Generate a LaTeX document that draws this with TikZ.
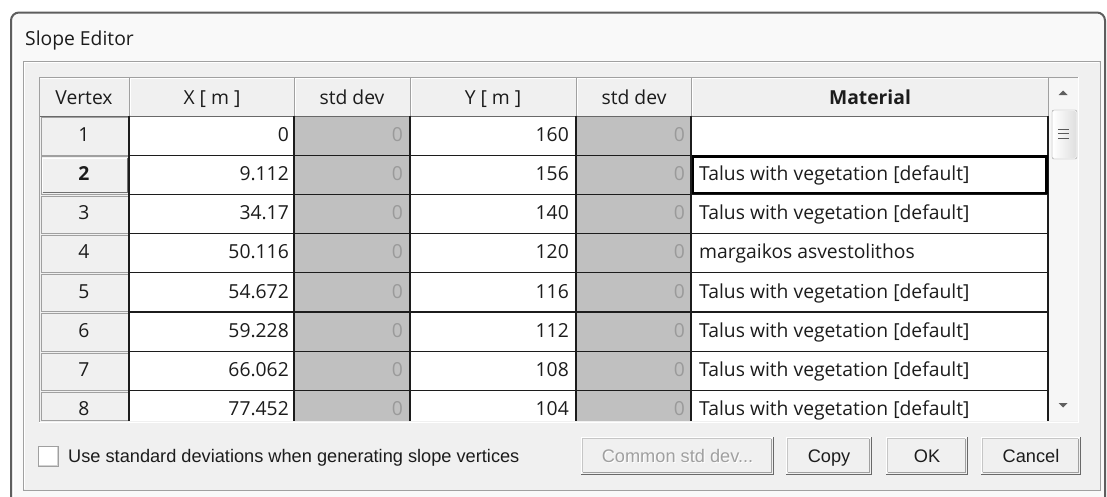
\documentclass[tikz,border=0pt]{standalone}
\usepackage{fontspec}
\setmainfont{Open Sans}
\newfontfamily\sysfont{Liberation Sans}
\newcommand\tabfont{\fontsize{19.3}{22}\selectfont}
\newcommand\btnfont{\sysfont\fontsize{18.2}{21}\selectfont}
\definecolor{panel}{HTML}{F0F0F0}
\definecolor{gridgray}{HTML}{A0A0A0}
\definecolor{celldis}{HTML}{C0C0C0}
\definecolor{txtdis}{HTML}{9A9A9A}
\definecolor{winbg}{HTML}{F9F9F9}
\definecolor{winedge}{HTML}{5E5E5E}
\definecolor{shadowd}{HTML}{696969}
\definecolor{ink}{HTML}{1C1C1C}
\begin{document}
\begin{tikzpicture}[x=1pt,y=-1pt,
  gridline/.style={draw=ink,line width=1.1pt},
  hdrtxt/.style={font=\tabfont,text=ink,inner sep=0pt,anchor=base},
  numtxt/.style={font=\tabfont,text=ink,inner sep=0pt,anchor=base east},
  distxt/.style={font=\tabfont,text=txtdis,inner sep=0pt,anchor=base east},
  mattxt/.style={font=\tabfont,text=ink,inner sep=0pt,anchor=base west},
  btntxt/.style={font=\btnfont,text=ink,inner sep=0pt,anchor=base}]
\useasboundingbox (0,0) rectangle (1107,496);
\fill[white] (0,0) rectangle (1107,496);
% window
\draw[winedge,line width=2pt,fill=winbg,rounded corners=8pt] (11,500) -- (11,12.5) -- (1105,12.5) -- (1105,500);
\draw[white,line width=0.8pt] (13.8,500) -- (13.8,20);
\node[font=\tabfont,text=ink,anchor=base west,inner sep=0pt] (title) at (25,45) {Slope Editor};
% inner group panel
\draw[gridgray,fill=panel] (23,61) rectangle (1100,490);
\draw[white] (24,489) -- (24,62) -- (1099,62);
% table frame
\fill[panel] (39,77) rectangle (1078,422);
% data cells
\fill[white] (129,116) rectangle (1048,421);
\fill[celldis] (294,116) rectangle (410,421);
\fill[celldis] (576,116) rectangle (691,421);
% header
\fill[panel] (39,77) rectangle (1048,116);
\draw[white] (39,78) -- (1048,78);
\foreach \xx in {129,294,410,576,691,1048}{
  \draw[gridgray] (\xx,77) -- (\xx,116);
  \draw[white] (\xx+1,78) -- (\xx+1,115);
}
\draw[shadowd,line width=1pt] (39,116) -- (1048,116);
\node[hdrtxt] (hv) at (84,104) {Vertex};
\node[hdrtxt] (hx) at (212,104) {X [ m ]};
\node[hdrtxt] (hs1) at (352,104) {std dev};
\node[hdrtxt] (hy) at (493,104) {Y [ m ]};
\node[hdrtxt] (hs2) at (634,104) {std dev};
\node[hdrtxt,font=\tabfont\bfseries] (hm) at (870,104) {Material};
% rows
\foreach \r/\xv/\yv/\mat in {1/0/160/{},2/9.112/156/{Talus with vegetation [default]},3/34.17/140/{Talus with vegetation [default]},4/50.116/120/{margaikos asvestolithos},5/54.672/116/{Talus with vegetation [default]},6/59.228/112/{Talus with vegetation [default]},7/66.062/108/{Talus with vegetation [default]},8/77.452/104/{Talus with vegetation [default]}}{
  \pgfmathsetmacro\tp{116+39.2*(\r-1)}
  \pgfmathsetmacro\bt{min(\tp+39.2,421)}
  \pgfmathsetmacro\cy{\tp+25.2}
  \draw[gridgray] (41,\tp+1.5) rectangle (128,\bt-0.5);
  \node[hdrtxt] (v\r) at (84,\cy) {\r};
  \node[numtxt] (x\r) at (289,\cy) {\xv};
  \node[distxt] (sx\r) at (403,\cy) {0};
  \node[numtxt] (y\r) at (569,\cy) {\yv};
  \node[distxt] (sy\r) at (685,\cy) {0};
  \node[mattxt] (m\r) at (699,\cy) {\mat};
}
% row 2 vertex raised
\fill[panel] (41,156.5) rectangle (128,193.5);
\draw[gridgray] (41,156.5) rectangle (128,193.9);
\draw[white,line width=1pt] (42.5,192) -- (42.5,158) -- (126.5,158);
\draw[gridgray!70!black] (42.5,192.5) -- (127,192.5) -- (127,158);
\node[hdrtxt,font=\tabfont\bfseries] (v2b) at (84,180.4) {2};
% grid lines
\foreach \yy in {155.2,194.4,233.6,272.8,312,351.2,390.4}{
  \draw[gridline] (129,\yy) -- (1048,\yy);
}
\foreach \xx in {129,294,410,576,691,1048}{
  \draw[gridline] (\xx,116) -- (\xx,421);
}
% focus cell
\draw[black,line width=2.2pt] (693,156.5) rectangle (1046.5,193.2);
% table frame lines
\draw[gridgray] (39,422) -- (39,77) -- (1078,77);
\draw[white] (39,422.5) -- (1078,422.5) -- (1078,77);
% scrollbar
\fill[panel!60!white] (1049,78) rectangle (1077.5,421);
\fill[gray!75!black] (1058.5,95) -- (1067.5,95) -- (1063,90.5) -- cycle;
\fill[gray!75!black] (1058.5,403) -- (1067.5,403) -- (1063,407.5) -- cycle;
\shade[left color=white,right color=gray!25,rounded corners=2pt] (1053,111) rectangle (1076,158);
\draw[gridgray,rounded corners=2pt] (1052,110) rectangle (1077,159);
\foreach \gy in {129,133.5,138}{
  \draw[gray!70!black,line width=1pt] (1058,\gy) -- (1069,\gy);
}
% checkbox
\draw[gridgray,fill=white] (38,446) rectangle (58,466);
\draw[gray!35] (39,465) -- (57,465) -- (57,447);
\node[btntxt,anchor=base west] (cbtxt) at (68,462.5) {Use standard deviations when generating slope vertices};
% buttons
\foreach \nm/\xa/\xb/\lbl in {bcom/581/774/{Common std dev...},bcopy/786/872/Copy,bok/886/968/OK,bcan/981/1081/Cancel}{
  \fill[panel] (\xa,437) rectangle (\xb,475);
  \draw[white,line width=1pt] (\xa+0.5,474) -- (\xa+0.5,437.5) -- (\xb-1,437.5);
  \draw[shadowd,line width=1.4pt] (\xa,474.5) -- (\xb-0.5,474.5) -- (\xb-0.5,437);
  \draw[gridgray,line width=1pt] (\xa+1.5,472.8) -- (\xb-2.2,472.8) -- (\xb-2.2,438.5);
  \draw[gray!45,line width=0.8pt] (\xa+1.5,472) -- (\xa+1.5,438.5) -- (\xb-3,438.5);
}
\node[btntxt,text=white] at (678.5,463.5) {Common std dev...};
\node[btntxt,text=gridgray] (tcom) at (677.5,462.5) {Common std dev...};
\node[btntxt] (tcopy) at (829,462.5) {Copy};
\node[btntxt] (tok) at (927,462.5) {OK};
\node[btntxt] (tcan) at (1031,462.5) {Cancel};
\end{tikzpicture}
\end{document}
